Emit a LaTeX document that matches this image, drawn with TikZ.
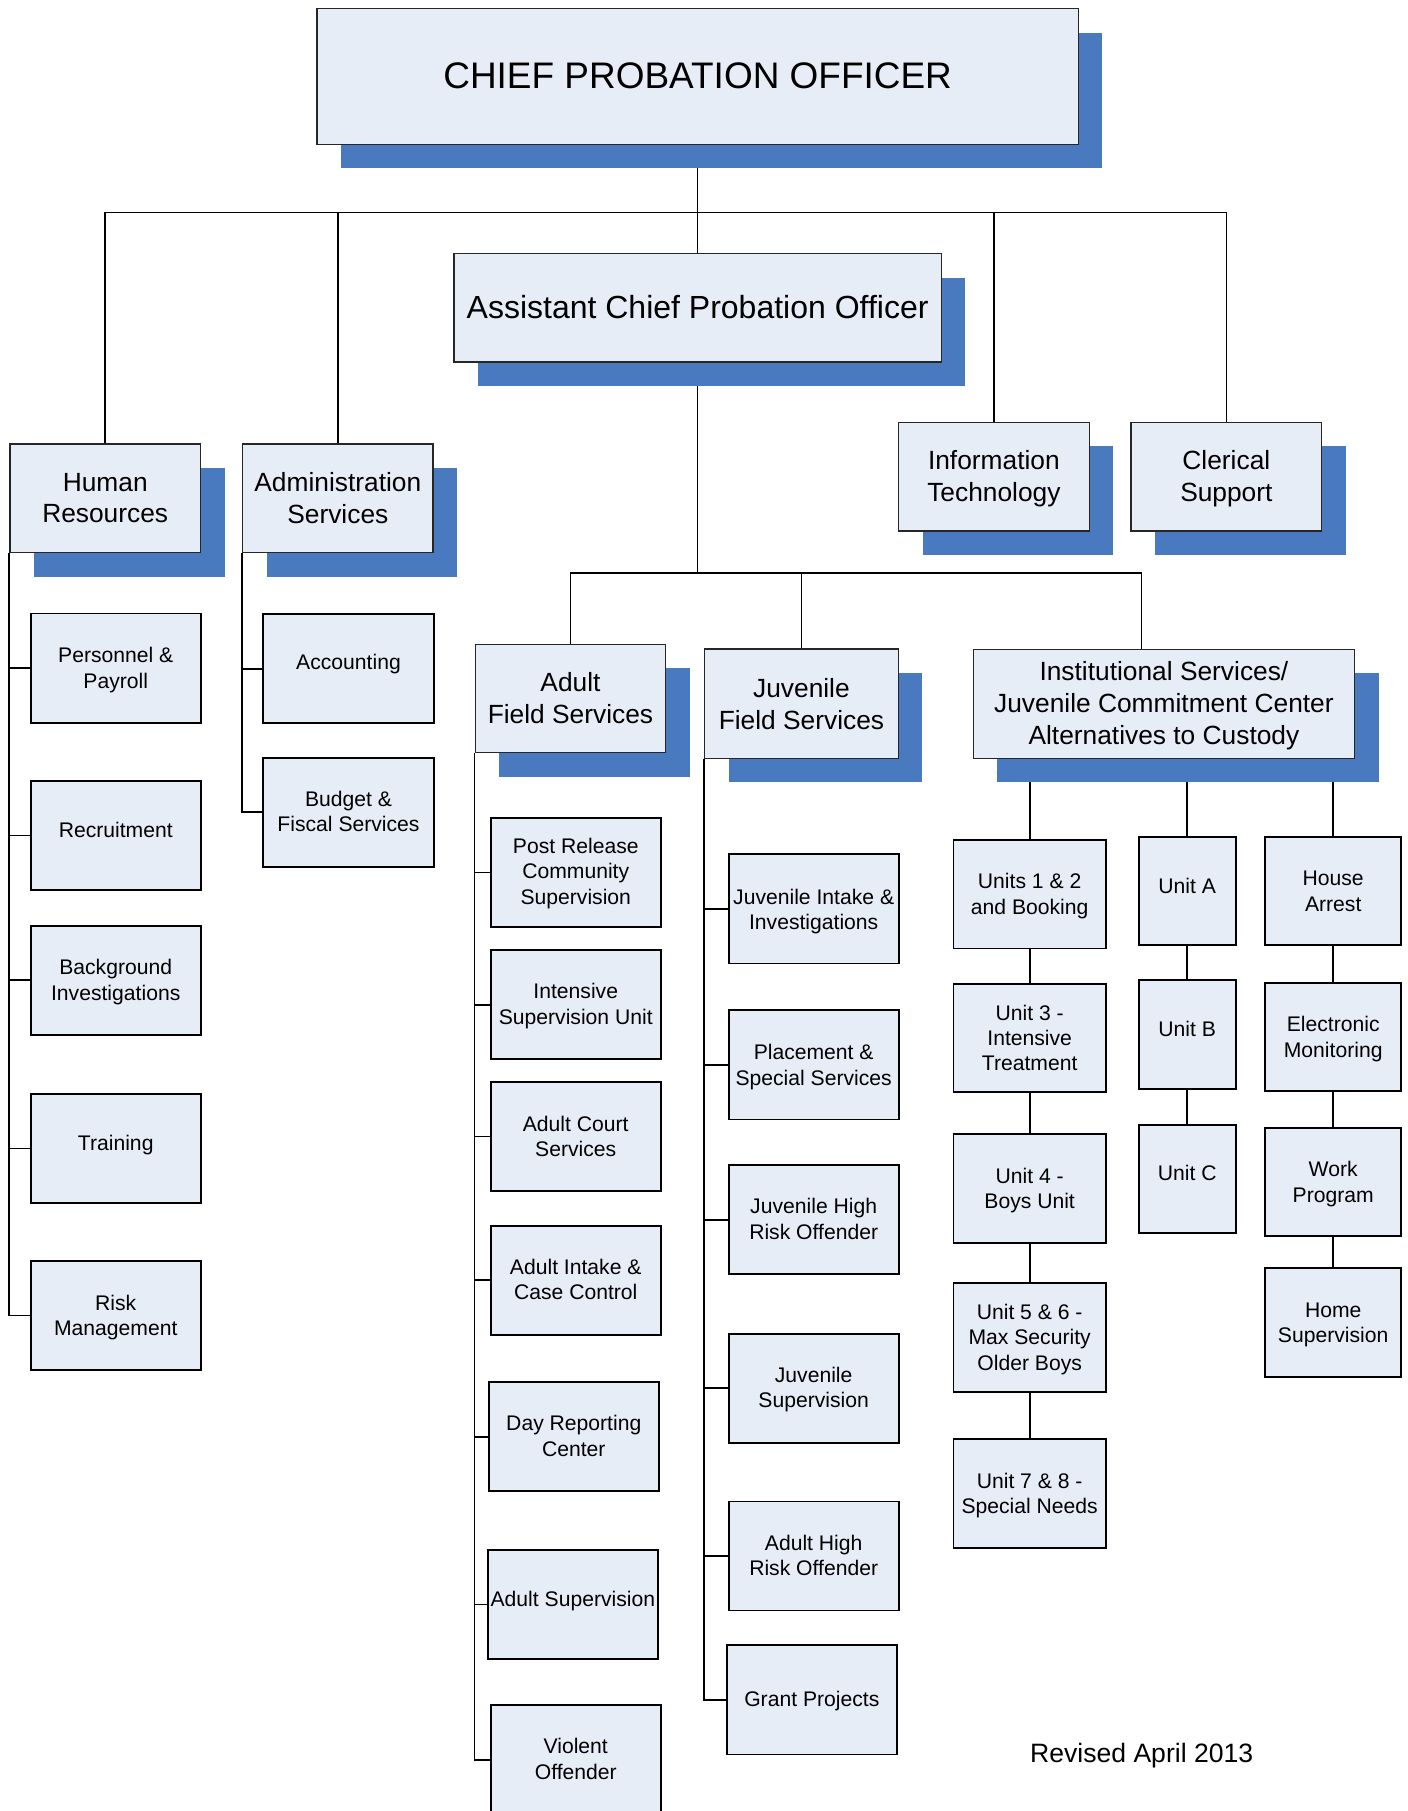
\documentclass[tikz,border=0pt]{standalone}
\usepackage{fontspec}
\setmainfont{Liberation Sans}
\usetikzlibrary{shadows}
\definecolor{boxfill}{RGB}{231,237,247}
\definecolor{shadowblue}{RGB}{73,121,190}
\pgfdeclarelayer{bg}
\pgfsetlayers{bg,main}
\newcommand\tstrut{\rule[-0.24em]{0pt}{1.14em}}
\newcommand\kstrut{\rule[-0.24em]{0pt}{1.34em}}
% box node without text + named text node shifted by dy
\newcommand\kidnode[5][]{\node[kidbox,#1] (#2) at (#3) {};
  \node[kidtxt] (#2-t) at ([yshift=#5]#2.center) {#4};}
\newcommand\headnode[5][]{\node[headbox,#1] (#2) at (#3) {};
  \node[headtxt] (#2-t) at ([yshift=#5]#2.center) {#4};}
\begin{document}
\begin{tikzpicture}[x=1pt,y=-1pt,
  basebox/.style={draw=black, fill=boxfill, inner sep=0pt, align=center},
  shad/.style={drop shadow={shadow xshift=20.8pt, shadow yshift=-20.8pt, fill=shadowblue, draw=none, opacity=1}},
  headbox/.style={basebox, shad, line width=1.1pt, draw=black!85, minimum width=165pt, minimum height=94pt},
  bigbox/.style={headbox, execute at begin node=\tstrut, execute at end node=\tstrut},
  headtxt/.style={inner sep=0pt, align=center, font=\fontsize{22.8}{27.5}\selectfont},
  kidbox/.style={basebox, line width=1.6pt, minimum width=147pt, minimum height=94.5pt},
  kidtxt/.style={inner sep=0pt, align=center, font=\fontsize{18.3}{22}\selectfont,
    execute at begin node=\kstrut, execute at end node=\kstrut},
  conn/.style={line width=1.5pt, draw=black},
]
\useasboundingbox (0,0) rectangle (1219,1568);
\clip (0,0) rectangle (1219,1568);

% ---------- top levels ----------
\node[bigbox, minimum width=659pt, minimum height=117.5pt, font=\fontsize{32}{38}\selectfont]
  (cpo) at (604,66.3) {CHIEF PROBATION OFFICER};
\node[bigbox, minimum width=422pt, minimum height=94pt, font=\fontsize{27.7}{33}\selectfont]
  (acpo) at (604,266.5) {Assistant Chief Probation Officer};
\headnode{hr}{91.1,431.5}{Human\\Resources}{0.3pt}
\headnode{admin}{292.5,431.5}{Administration\\Services}{0.3pt}
\headnode{it}{860.5,412.7}{Information\\Technology}{-1.5pt}
\headnode{cs}{1061.8,412.7}{Clerical\\Support}{-1.5pt}
\headnode{afs}{493.9,604.7}{Adult\\Field Services}{0.3pt}
\headnode[minimum width=167.8pt, minimum height=94.6pt]{jfs}{693.9,609.3}{Juvenile\\Field Services}{-0.3pt}
\headnode[minimum width=330pt, minimum height=94.3pt]{inst}{1007.75,609.35}
  {Institutional Services/\\Juvenile Commitment Center\\Alternatives to Custody}{-1.5pt}

% ---------- Human Resources ----------
\kidnode{pp}{100.2,578.4}{Personnel \&\\Payroll}{-2pt}
\kidnode{rec}{100.2,723.3}{Recruitment}{5.8pt}
\kidnode{bgi}{100.2,848.7}{Background\\Investigations}{-2pt}
\kidnode{trn}{100.2,994.4}{Training}{6.4pt}
\kidnode{risk}{100.2,1138.9}{Risk\\Management}{-2pt}

% ---------- Administration ----------
\kidnode[minimum width=147.5pt]{acc}{301.75,579}{Accounting}{7pt}
\kidnode[minimum width=147.5pt]{bud}{301.75,703.2}{Budget \&\\Fiscal Services}{-1.5pt}

% ---------- Adult Field Services ----------
\kidnode{pr}{498.5,755.5}{Post Release\\Community\\Supervision}{-1pt}
\kidnode{isu}{498.5,870}{Intensive\\Supervision Unit}{-1.2pt}
\kidnode{acs}{498.5,984}{Adult Court\\Services}{-2pt}
\kidnode{aic}{498.5,1108.5}{Adult Intake \&\\Case Control}{-1.5pt}
\kidnode{drc}{496.8,1243.9}{Day Reporting\\Center}{-1.5pt}
\kidnode{asv}{496,1389.3}{Adult Supervision}{6.3pt}
\kidnode{vo}{498.5,1523.6}{Violent\\Offender}{-1.5pt}

% ---------- Juvenile Field Services ----------
\kidnode{jii}{704.5,787}{Juvenile Intake \&\\Investigations}{-2.5pt}
\kidnode{pss}{704.5,922}{Placement \&\\Special Services}{-2pt}
\kidnode{jhr}{704.5,1056}{Juvenile High\\Risk Offender}{-1.5pt}
\kidnode{jsv}{704.5,1202}{Juvenile\\Supervision}{-1.5pt}
\kidnode{ahr}{704.5,1347.2}{Adult High\\Risk Offender}{-1.5pt}
\kidnode{gp}{702.9,1471.8}{Grant Projects}{2pt}

% ---------- Institutional ----------
\kidnode[minimum width=132pt, minimum height=94pt]{u12}{891.5,774.2}{Units 1 \& 2\\and Booking}{-2pt}
\kidnode[minimum width=132pt, minimum height=94pt]{u3}{891.5,898.7}{Unit 3 -\\Intensive\\Treatment}{-2pt}
\kidnode[minimum width=132pt, minimum height=94pt]{u4}{891.5,1028.9}{Unit 4 -\\Boys Unit}{-2pt}
\kidnode[minimum width=132pt, minimum height=94pt]{u56}{891.5,1158}{Unit 5 \& 6 -\\Max Security\\Older Boys}{-2pt}
\kidnode[minimum width=132pt, minimum height=94pt]{u78}{891.5,1293}{Unit 7 \& 8 -\\Special Needs}{-2pt}

\kidnode[minimum width=84pt, minimum height=94pt]{ua}{1027.9,771.4}{Unit A}{5.6pt}
\kidnode[minimum width=84pt, minimum height=94pt]{ub}{1027.9,895.8}{Unit B}{6pt}
\kidnode[minimum width=84pt, minimum height=94pt]{uc}{1027.9,1020.8}{Unit C}{6.5pt}

\kidnode[minimum width=118pt, minimum height=94pt]{ha}{1154.3,771.4}{House\\Arrest}{-2.5pt}
\kidnode[minimum width=118pt, minimum height=94pt]{em}{1154.3,897.8}{Electronic\\Monitoring}{-2pt}
\kidnode[minimum width=118pt, minimum height=94pt]{wp}{1154.3,1023.3}{Work\\Program}{-2pt}
\kidnode[minimum width=118pt, minimum height=94pt]{hs}{1154.3,1145.2}{Home\\Supervision}{-2pt}

\node[inner sep=0pt, font=\fontsize{23}{27}\selectfont, execute at begin node=\tstrut, execute at end node=\tstrut]
  (rev) at (988.5,1518) {Revised April 2013};

% ---------- connectors ----------
\begin{pgfonlayer}{bg}
\coordinate (bar1) at (604,184);
\coordinate (bar2) at (604,496);
\coordinate (instdrop) at ([xshift=-19.4pt]inst.north);
\draw[conn] (cpo.south) -- (acpo.north);
\draw[conn] (hr.north) |- (cs.north |- bar1) -- (cs.north);
\draw[conn] (admin.north) -- (admin.north |- bar1);
\draw[conn] (it.north) -- (it.north |- bar1);
\draw[conn] (acpo.south) -- (bar2);
\draw[conn] (afs.north) |- (instdrop |- bar2) -- (instdrop);
\draw[conn] (jfs.north) -- (jfs.north |- bar2);

\draw[conn] (hr.south west) |- (risk.west);
\foreach \k in {pp,rec,bgi,trn} \draw[conn] (\k.west) -- (\k.west -| hr.south west);
\draw[conn] (admin.south west) |- (bud.west);
\draw[conn] (acc.west) -- (acc.west -| admin.south west);
\draw[conn] (afs.south west) |- (vo.west);
\foreach \k in {pr,isu,acs,aic,drc,asv} \draw[conn] (\k.west) -- (\k.west -| afs.south west);
\draw[conn] (jfs.south west) |- (gp.west);
\foreach \k in {jii,pss,jhr,jsv,ahr} \draw[conn] (\k.west) -- (\k.west -| jfs.south west);

\draw[conn] (u12.north) -- (u12.north |- inst.south);
\draw[conn] (u12) -- (u3) -- (u4) -- (u56) -- (u78);
\draw[conn] (ua.north) -- (ua.north |- inst.south);
\draw[conn] (ua) -- (ub) -- (uc);
\draw[conn] (ha.north) -- (ha.north |- inst.south);
\draw[conn] (ha) -- (em) -- (wp) -- (hs);
\end{pgfonlayer}
\end{tikzpicture}
\end{document}
